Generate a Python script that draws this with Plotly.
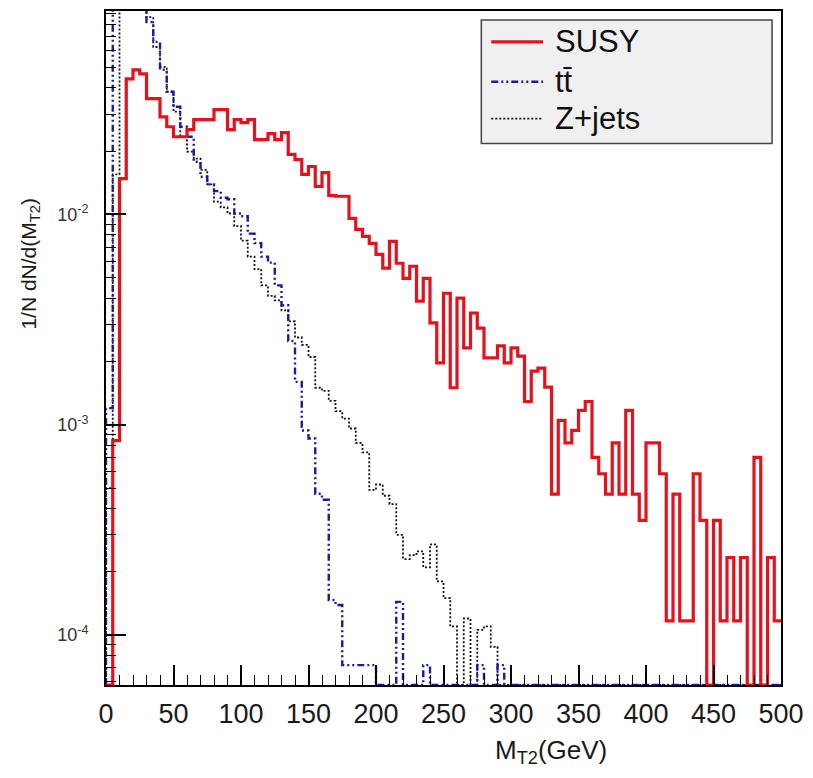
import plotly.graph_objects as go

# ---------------- data (per 5 GeV bin, 0-500 GeV) ----------------
bin_edges = list(range(0, 505, 5))

susy = [0, 8.4e-4, 0.0148, 0.0441, 0.0487, 0.0466, 0.0355, 0.0355, 0.0291, 0.0261,
        0.0234, 0.0234, 0.0253, 0.0282, 0.0282, 0.0282, 0.0315, 0.0315, 0.0253, 0.0282,
        0.0273, 0.0282, 0.0227, 0.0227, 0.0242, 0.0227, 0.0245, 0.0193, 0.0182, 0.0155,
        0.0169, 0.0136, 0.0158, 0.0123, 0.0122, 0.0122, 0.00957, 0.00849, 0.00786, 0.00729,
        0.00646, 0.00555, 0.00745, 0.00586, 0.00497, 0.00567, 0.00387, 0.00497, 0.00305, 0.00197,
        0.00422, 0.00150, 0.00400, 0.00232, 0.00340, 0.00288, 0.00208, 0.00208, 0.00237, 0.00197,
        0.00232, 0.00212, 0.00129, 0.00180, 0.00186, 0.00151, 4.68e-4, 1.05e-3, 8.2e-4, 9.4e-4,
        1.17e-3, 1.29e-3, 7.0e-4, 5.85e-4, 4.68e-4, 8.2e-4, 4.68e-4, 1.17e-3, 4.68e-4, 3.51e-4,
        8.2e-4, 8.2e-4, 5.85e-4, 1.17e-4, 4.68e-4, 1.17e-4, 1.17e-4, 5.85e-4, 3.51e-4, 0,
        3.51e-4, 1.17e-4, 2.34e-4, 1.17e-4, 2.34e-4, 0, 7.0e-4, 0, 2.34e-4, 1.17e-4]

ttbar = [1.2e-3, 0.12, 0.2, 0.2, 0.18, 0.12, 0.0822, 0.0661, 0.0487, 0.0383,
         0.0325, 0.0261, 0.0234, 0.0178, 0.0151, 0.0139, 0.0129, 0.0120, 0.0118, 0.0101,
         0.0098, 0.0081, 0.0073, 0.0063, 0.0059, 0.0046, 0.0037, 0.0025, 0.0016, 9.4e-4,
         8.6e-4, 4.7e-4, 4.4e-4, 1.47e-4, 1.39e-4, 7.2e-5, 7.2e-5, 7.2e-5, 7.2e-5, 7.2e-5,
         0, 0, 0, 1.44e-4, 0, 0, 0, 7.2e-5, 0, 0,
         0, 0, 0, 0, 0, 7.2e-5, 0, 0, 7.2e-5, 0,
         0, 0, 0, 0, 0, 0, 0, 0, 0, 0,
         0, 0, 0, 0, 0, 0, 0, 0, 0, 0,
         0, 0, 0, 0, 0, 0, 0, 0, 0, 0,
         0, 0, 0, 0, 0, 0, 0, 0, 0, 0]

zjets = [5e-4, 0.0155, 0.18, 0.2, 0.17, 0.12, 0.0866, 0.0625, 0.0503, 0.0383,
         0.0308, 0.0234, 0.0199, 0.0184, 0.0163, 0.0139, 0.0115, 0.0108, 0.0101, 0.0088,
         0.0075, 0.0063, 0.0055, 0.0046, 0.0041, 0.0039, 0.0035, 0.0031, 0.0026, 0.0024,
         0.0021, 0.0015, 0.00145, 0.0013, 0.00116, 0.00107, 9.6e-4, 8.2e-4, 7.4e-4, 4.9e-4,
         5.2e-4, 4.6e-4, 4.2e-4, 3.0e-4, 2.3e-4, 2.4e-4, 2.5e-4, 2.1e-4, 2.7e-4, 1.8e-4,
         1.5e-4, 1.1e-4, 0, 1.2e-4, 0, 1.06e-4, 1.1e-4, 8.8e-5, 0, 0,
         0, 0, 0, 0, 0, 0, 0, 0, 0, 0,
         0, 0, 0, 0, 0, 0, 0, 0, 0, 0,
         0, 0, 0, 0, 0, 0, 0, 0, 0, 0,
         0, 0, 0, 0, 0, 0, 0, 0, 0, 0]

series_names = ["SUSY", "tt\u0304", "Z+jets"]
y_tick_vals = [1e-4, 1e-3, 1e-2]
y_tick_text = ["10<sup>-4</sup>", "10<sup>-3</sup>", "10<sup>-2</sup>"]
x_tick_vals = list(range(0, 550, 50))

# ---------------- styling ----------------
Y_LOG_RANGE = [-4.237, -1.033]
FLOOR = 10 ** Y_LOG_RANGE[0]
FONT = "Liberation Sans, Arial, Helvetica, sans-serif"
RED = "#e3121c"
BLUE = "#1c1c96"
BLACK = "#111111"

W, H = 813, 778
ML, MR, MT, MB = 106, 29, 9, 93
PW, PH = W - ML - MR, H - MT - MB


def px2paper(px, py):
    return (px - ML) / PW, 1 - (py - MT) / PH


def step_xy(vals):
    ys = [v if v > 0 else FLOOR for v in vals]
    x = [bin_edges[0]] + bin_edges[:-1] + [bin_edges[-1]]
    y = [FLOOR] + ys + [ys[-1]]
    return x, y


fig = go.Figure()
styles = [
    dict(color=RED, width=3.2, dash="solid"),
    dict(color=BLUE, width=2.4, dash="7px,3px,2px,3px,2px,3px"),
    dict(color=BLACK, width=1.8, dash="2px,2px"),
]
# draw background series first, SUSY on top
for vals, name, st in [(zjets, series_names[2], styles[2]),
                       (ttbar, series_names[1], styles[1]),
                       (susy, series_names[0], styles[0])]:
    x, y = step_xy(vals)
    fig.add_trace(go.Scatter(x=x, y=y, mode="lines", name=name,
                             line=dict(shape="hv", **st), showlegend=False,
                             hoverinfo="skip"))

fig.update_xaxes(range=[0, 500], tickvals=x_tick_vals, ticks="inside", ticklen=20,
                 tickwidth=1.5, tickcolor="black", showline=True, linecolor="black",
                 linewidth=2, mirror=True, showgrid=False, zeroline=False,
                 tickfont=dict(family=FONT, size=27, color="#1a1a1a"),
                 ticklabelstandoff=4,
                 minor=dict(ticks="inside", ticklen=10, dtick=10, tickcolor="black",
                            tickwidth=1.2, showgrid=False))
fig.update_yaxes(type="log", range=Y_LOG_RANGE, tickvals=y_tick_vals, ticktext=y_tick_text,
                 ticks="inside", ticklen=20, tickwidth=1.5, tickcolor="black",
                 showline=True, linecolor="black", linewidth=2, mirror=True,
                 showgrid=False, zeroline=False,
                 tickfont=dict(family=FONT, size=18, color="#333333"),
                 ticklabelstandoff=12,
                 minor=dict(ticks="inside", ticklen=10, dtick="D1", tickcolor="black",
                            tickwidth=1.2, showgrid=False))

# legend box (ROOT TLegend style)
lx0, ly1 = px2paper(483, 18)
lx1, ly0 = px2paper(775, 142)
fig.add_shape(type="rect", xref="paper", yref="paper", x0=lx0, x1=lx1, y0=ly0, y1=ly1,
              fillcolor="#f0f0f0", line=dict(color="#444444", width=1.5), layer="above")
entry_py = [40, 80, 117]
for name, st, py in zip(series_names, styles, entry_py):
    sx0, sy = px2paper(493, py)
    sx1, _ = px2paper(545, py)
    fig.add_shape(type="line", xref="paper", yref="paper", x0=sx0, x1=sx1, y0=sy, y1=sy,
                  line=dict(color=st["color"], width=st["width"], dash=st["dash"]),
                  layer="above")
    tx, _ = px2paper(555, py)
    fig.add_annotation(x=tx, y=sy, xref="paper", yref="paper", text=name,
                       showarrow=False, xanchor="left", yanchor="middle",
                       font=dict(family=FONT, size=31, color="#111111"))

# axis titles
tx, ty = px2paper(553, 752)
fig.add_annotation(x=tx, y=ty, xref="paper", yref="paper", text="M<sub>T2</sub>(GeV)",
                   showarrow=False, xanchor="center", yanchor="middle",
                   font=dict(family=FONT, size=26, color="#1a1a1a"))
tx, ty = px2paper(30, 262)
fig.add_annotation(x=tx, y=ty, xref="paper", yref="paper", text="1/N dN/d(M<sub>T2</sub>)",
                   showarrow=False, xanchor="center", yanchor="middle", textangle=-90,
                   font=dict(family=FONT, size=21, color="#1a1a1a"))

fig.update_layout(width=W, height=H, margin=dict(l=ML, r=MR, t=MT, b=MB),
                  paper_bgcolor="white", plot_bgcolor="white", showlegend=False)

fig.write_html("out.html")
